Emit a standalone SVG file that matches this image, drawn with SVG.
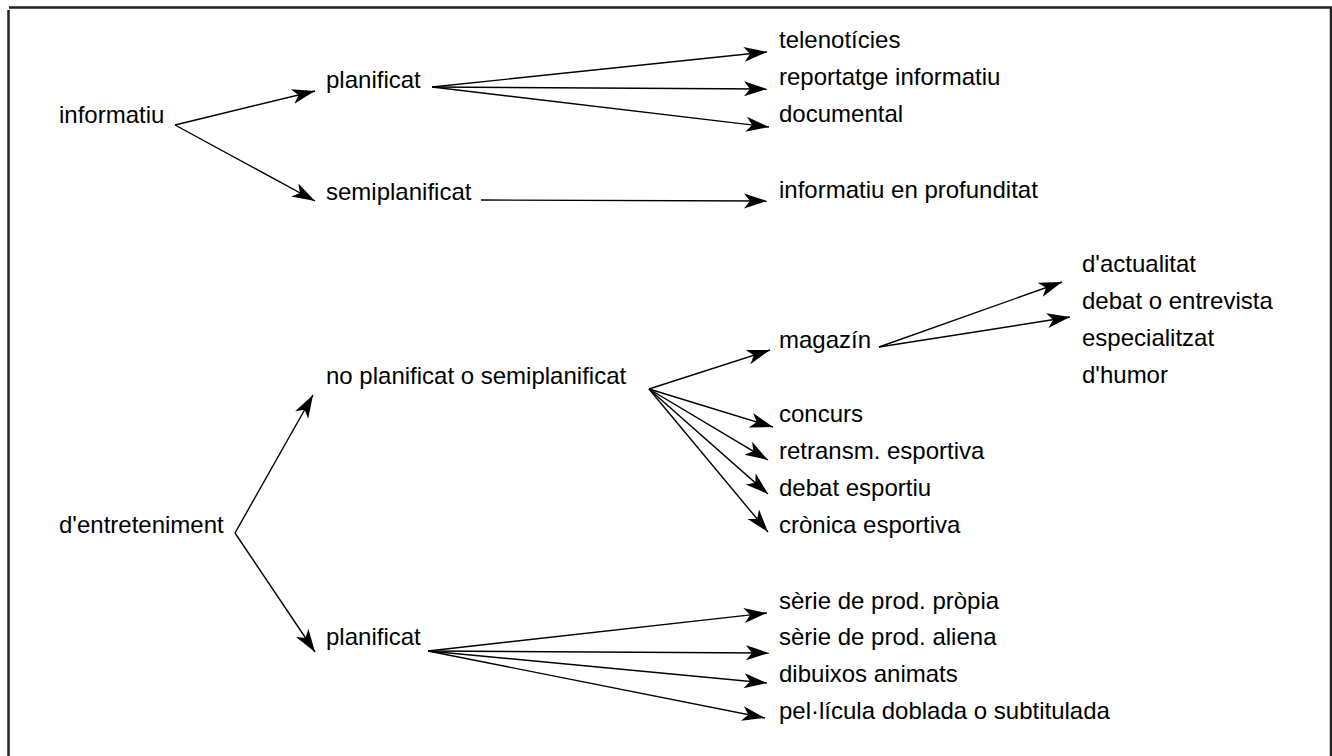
<svg xmlns="http://www.w3.org/2000/svg" width="1332" height="756" viewBox="0 0 1332 756">
<style>
text{font-family:"Liberation Sans",Arial,sans-serif;font-size:24px;fill:#000}
.c line{stroke:#000;stroke-width:1.4;fill:none;marker-end:url(#ah)}
.frame{stroke:#222;stroke-width:2.5;fill:none}
</style>
<defs>
<marker id="ah" markerUnits="userSpaceOnUse" viewBox="-24 -8 26 16" refX="0" refY="0" markerWidth="26" markerHeight="16" orient="auto">
<path d="M0,0 L-23,-7.5 L-17,0 L-23,7.5 Z" fill="#000"/>
</marker>
</defs>
<rect width="1332" height="756" fill="#fff"/>
<g id="frame">
<path class="frame" d="M9,7.5 H1332 M8.5,10 V756 M1331,7.5 V756"/>
</g>
<g class="c" id="connectors">
<line x1="175" y1="125" x2="315" y2="91"/>
<line x1="175" y1="125" x2="315" y2="201"/>
<line x1="432" y1="87" x2="767" y2="52"/>
<line x1="432" y1="87" x2="767" y2="89"/>
<line x1="432" y1="87" x2="769" y2="127"/>
<line x1="481" y1="200" x2="767" y2="201"/>
<line x1="879" y1="347" x2="1062" y2="282"/>
<line x1="879" y1="347" x2="1070" y2="317"/>
<line x1="649" y1="389" x2="770" y2="350"/>
<line x1="649" y1="389" x2="773" y2="427"/>
<line x1="649" y1="389" x2="768" y2="460"/>
<line x1="649" y1="389" x2="768" y2="494"/>
<line x1="649" y1="389" x2="768" y2="532"/>
<line x1="235" y1="533" x2="313" y2="395"/>
<line x1="235" y1="533" x2="315" y2="652"/>
<line x1="428" y1="651" x2="767" y2="613"/>
<line x1="428" y1="651" x2="769" y2="653"/>
<line x1="428" y1="651" x2="767" y2="683"/>
<line x1="428" y1="651" x2="765" y2="718"/>
</g>
<g id="n-informatiu"><text x="59" y="123">informatiu</text></g>
<g id="n-planificat1"><text x="326" y="88">planificat</text></g>
<g id="n-semiplanificat"><text x="326" y="200">semiplanificat</text></g>
<g id="n-telenoticies"><text x="779" y="48">telenotícies</text></g>
<g id="n-reportatge"><text x="779" y="85">reportatge informatiu</text></g>
<g id="n-documental"><text x="779" y="122">documental</text></g>
<g id="n-profunditat"><text x="779" y="198">informatiu en profunditat</text></g>
<g id="n-actualitat"><text x="1082" y="272">d'actualitat</text></g>
<g id="n-debat"><text x="1082" y="309">debat o entrevista</text></g>
<g id="n-especialitzat"><text x="1082" y="346">especialitzat</text></g>
<g id="n-humor"><text x="1082" y="383">d'humor</text></g>
<g id="n-noplanificat"><text x="326" y="384">no planificat o semiplanificat</text></g>
<g id="n-magazin"><text x="779" y="348">magazín</text></g>
<g id="n-concurs"><text x="779" y="422">concurs</text></g>
<g id="n-retransm"><text x="779" y="459">retransm. esportiva</text></g>
<g id="n-debatesp"><text x="779" y="496">debat esportiu</text></g>
<g id="n-cronica"><text x="779" y="533">crònica esportiva</text></g>
<g id="n-entreteniment"><text x="59" y="533">d'entreteniment</text></g>
<g id="n-planificat2"><text x="326" y="645">planificat</text></g>
<g id="n-serie1"><text x="779" y="609">sèrie de prod. pròpia</text></g>
<g id="n-serie2"><text x="779" y="645">sèrie de prod. aliena</text></g>
<g id="n-dibuixos"><text x="779" y="682">dibuixos animats</text></g>
<g id="n-pellicula"><text x="779" y="719">pel·lícula doblada o subtitulada</text></g>
</svg>
